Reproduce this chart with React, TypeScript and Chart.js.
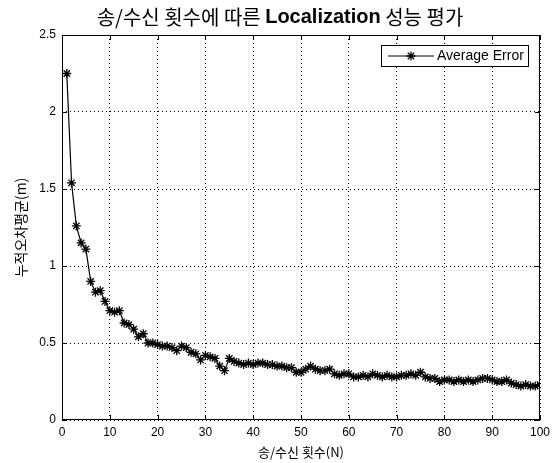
import React, { useEffect, useRef } from "react";
import { Chart, registerables } from "chart.js";

Chart.register(...registerables);

const TITLE_PARTS = [
  { text: "송/수신 횟수에 따른 ", bold: false },
  { text: "Localization", bold: true },
  { text: " 성능 평가", bold: false },
];
const X_LABEL = "송/수신 횟수(N)";
const Y_LABEL = "누적오차평균(m)";
const SERIES_NAME = "Average Error";

const trials = [
  1, 2, 3, 4, 5, 6, 7, 8, 9, 10, 11, 12, 13, 14, 15, 16, 17, 18, 19, 20,
  21, 22, 23, 24, 25, 26, 27, 28, 29, 30, 31, 32, 33, 34, 35, 36, 37, 38, 39, 40,
  41, 42, 43, 44, 45, 46, 47, 48, 49, 50, 51, 52, 53, 54, 55, 56, 57, 58, 59, 60,
  61, 62, 63, 64, 65, 66, 67, 68, 69, 70, 71, 72, 73, 74, 75, 76, 77, 78, 79, 80,
  81, 82, 83, 84, 85, 86, 87, 88, 89, 90, 91, 92, 93, 94, 95, 96, 97, 98, 99, 100,
];

const avgError = [
  2.25, 1.54, 1.26, 1.15, 1.11, 0.9, 0.83, 0.84, 0.77, 0.71,
  0.7, 0.71, 0.63, 0.62, 0.59, 0.54, 0.56, 0.5, 0.5, 0.49,
  0.48, 0.48, 0.47, 0.45, 0.48, 0.47, 0.44, 0.43, 0.39, 0.42,
  0.41, 0.4, 0.35, 0.32, 0.4, 0.38, 0.37, 0.36, 0.37, 0.36,
  0.37, 0.37, 0.36, 0.36, 0.35, 0.35, 0.34, 0.34, 0.31, 0.31,
  0.33, 0.35, 0.33, 0.32, 0.32, 0.33, 0.3, 0.29, 0.3, 0.3,
  0.28, 0.28, 0.29, 0.28, 0.3, 0.29, 0.28, 0.29, 0.28, 0.28,
  0.29, 0.29, 0.3, 0.29, 0.31, 0.28, 0.27, 0.27, 0.25, 0.26,
  0.26, 0.25, 0.26, 0.25, 0.26, 0.25, 0.26, 0.27, 0.27, 0.26,
  0.25, 0.25, 0.26, 0.24, 0.23, 0.22, 0.23, 0.22, 0.22, 0.23,
];

const X_MIN = 0;
const X_MAX = 100;
const X_STEP = 10;
const Y_MIN = 0;
const Y_MAX = 2.5;
const Y_STEP = 0.5;

const FONT = "'Liberation Sans', Arial, 'Noto Sans CJK KR', sans-serif";
const KFONT = "'Noto Sans CJK KR', 'Liberation Sans', sans-serif";

function drawStar(ctx: CanvasRenderingContext2D, x: number, y: number, r: number) {
  ctx.beginPath();
  ctx.moveTo(x - r, y);
  ctx.lineTo(x + r, y);
  ctx.moveTo(x, y - r);
  ctx.lineTo(x, y + r);
  const d = r * 0.7071;
  ctx.moveTo(x - d, y - d);
  ctx.lineTo(x + d, y + d);
  ctx.moveTo(x - d, y + d);
  ctx.lineTo(x + d, y - d);
  ctx.stroke();
}

const decorPlugin = {
  id: "decor",
  afterDraw(chart: any) {
    const ctx: CanvasRenderingContext2D = chart.ctx;
    const { left, right, top, bottom } = chart.chartArea;
    const xs = chart.scales.x;
    const ys = chart.scales.y;
    ctx.save();
    // frame
    ctx.strokeStyle = "#000";
    ctx.lineWidth = 1;
    ctx.setLineDash([]);
    ctx.strokeRect(left + 0.5, top + 0.5, right - left - 1, bottom - top - 1);
    // inside ticks
    const tl = 5;
    ctx.beginPath();
    for (const t of xs.ticks) {
      const px = Math.round(xs.getPixelForValue(t.value)) + 0.5;
      ctx.moveTo(px, bottom);
      ctx.lineTo(px, bottom - tl);
      ctx.moveTo(px, top);
      ctx.lineTo(px, top + tl);
    }
    for (const t of ys.ticks) {
      const py = Math.round(ys.getPixelForValue(t.value)) + 0.5;
      ctx.moveTo(left, py);
      ctx.lineTo(left + tl, py);
      ctx.moveTo(right, py);
      ctx.lineTo(right - tl, py);
    }
    ctx.stroke();

    // title with mixed weights
    const sizeT = 20;
    let total = 0;
    const widths: number[] = [];
    for (const p of TITLE_PARTS) {
      ctx.font = `${p.bold ? "bold " : ""}${sizeT}px ${p.bold ? FONT : KFONT}`;
      const w = ctx.measureText(p.text).width;
      widths.push(w);
      total += w;
    }
    let tx = 280 - total / 2;
    ctx.fillStyle = "#000";
    ctx.textBaseline = "middle";
    ctx.textAlign = "left";
    TITLE_PARTS.forEach((p, i) => {
      ctx.font = `${p.bold ? "bold " : ""}${sizeT}px ${p.bold ? FONT : KFONT}`;
      ctx.fillText(p.text, tx, 17);
      tx += widths[i];
    });

    // legend
    const bw = 147;
    const bh = 21;
    const bx = right - 12 - bw;
    const by = top + 10;
    ctx.fillStyle = "#fff";
    ctx.fillRect(bx, by, bw, bh);
    ctx.strokeStyle = "#000";
    ctx.strokeRect(bx + 0.5, by + 0.5, bw, bh);
    const ly = by + bh / 2 + 0.5;
    ctx.beginPath();
    ctx.moveTo(bx + 7, ly);
    ctx.lineTo(bx + 53, ly);
    ctx.stroke();
    ctx.lineWidth = 1.3;
    drawStar(ctx, bx + 30, ly, 4.5);
    ctx.fillStyle = "#000";
    ctx.font = `14px ${FONT}`;
    ctx.textBaseline = "middle";
    ctx.fillText(SERIES_NAME, bx + 56, ly);
    ctx.restore();
  },
};

export default function App() {
  const ref = useRef<HTMLCanvasElement | null>(null);
  useEffect(() => {
    if (!ref.current) return;
    const points = trials.map((t, i) => ({ x: t, y: avgError[i] }));
    const chart = new Chart(ref.current, {
      type: "line",
      data: {
        datasets: [
          {
            label: SERIES_NAME,
            data: points,
            borderColor: "#000",
            backgroundColor: "#000",
            borderWidth: 1.2,
            pointStyle: "star",
            pointRadius: 4.5,
            pointBorderColor: "#000",
            pointBorderWidth: 1.3,
            tension: 0,
            fill: false,
          },
        ],
      },
      options: {
        responsive: false,
        animation: false,
        devicePixelRatio: 1,
        layout: { padding: { top: 35, right: 19, left: 0, bottom: 0 } },
        plugins: {
          legend: { display: false },
          title: { display: false },
          tooltip: { enabled: false },
        },
        scales: {
          x: {
            type: "linear",
            min: X_MIN,
            max: X_MAX,
            ticks: {
              stepSize: X_STEP,
              color: "#000",
              font: { family: FONT, size: 12 },
              padding: 5,
              maxRotation: 0,
            },
            grid: { color: "#000", drawTicks: false, lineWidth: 1 },
            border: { display: false, dash: [1, 3] },
            title: {
              display: true,
              text: X_LABEL,
              color: "#000",
              font: { family: KFONT, size: 13 },
              padding: { top: 0, bottom: 3 },
            },
            afterFit: (s: any) => {
              s.height = 43;
            },
          },
          y: {
            type: "linear",
            min: Y_MIN,
            max: Y_MAX,
            ticks: {
              stepSize: Y_STEP,
              color: "#000",
              font: { family: FONT, size: 12 },
              padding: 6,
              callback: (v: any) => String(v),
            },
            grid: { color: "#000", drawTicks: false, lineWidth: 1 },
            border: { display: false, dash: [1, 3] },
            title: {
              display: true,
              text: Y_LABEL,
              color: "#000",
              font: { family: KFONT, size: 14 },
              padding: { top: 12, bottom: 0 },
            },
            afterFit: (s: any) => {
              s.width = 62;
            },
          },
        },
      },
      plugins: [decorPlugin],
    });
    return () => chart.destroy();
  }, []);
  return (
    <div style={{ position: "absolute", left: 0, top: 0, width: 559, height: 463, background: "#fff" }}>
      <canvas ref={ref} width={559} height={463} style={{ display: "block" }} />
    </div>
  );
}
